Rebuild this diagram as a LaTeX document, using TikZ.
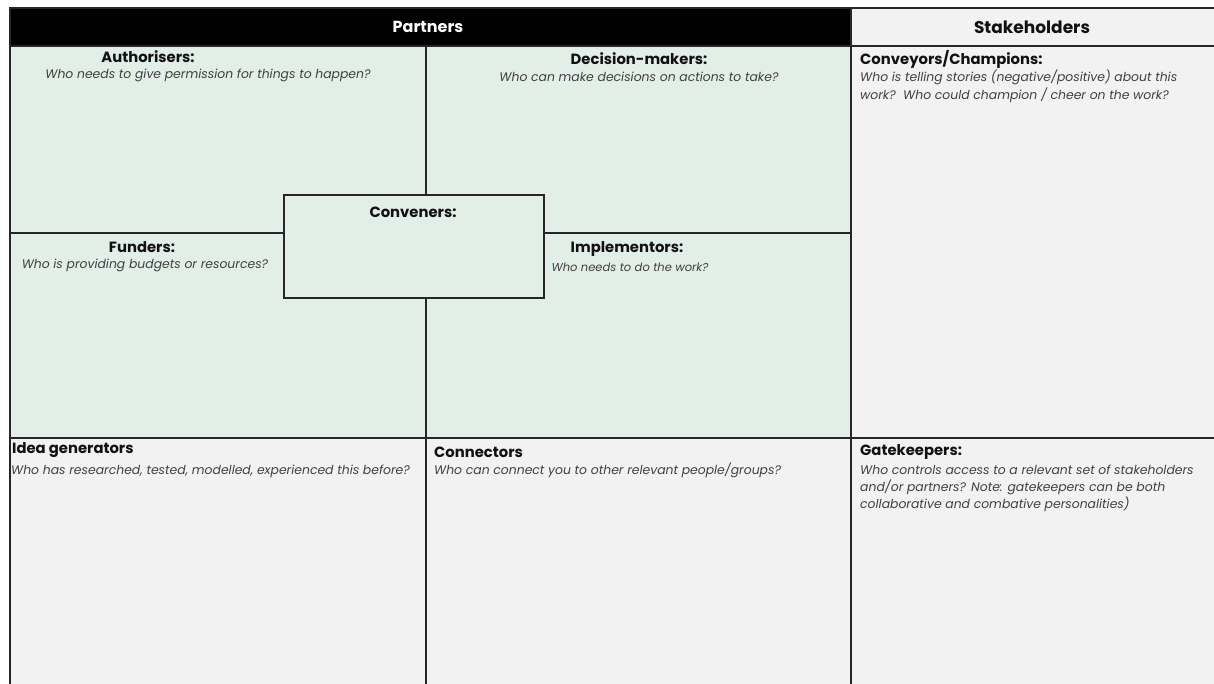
\documentclass[tikz,border=0pt]{standalone}
\usepackage{fontspec}
\setmainfont{Poppins}
\definecolor{greencell}{HTML}{E2EEE8}
\definecolor{greycell}{HTML}{F2F2F2}
\definecolor{linecol}{HTML}{262626}
\definecolor{headtxt}{HTML}{111111}
\definecolor{subtxt}{HTML}{404040}
\tikzset{
  cell/.style={draw=linecol, line width=1.8pt, anchor=north west, inner sep=0pt},
  gcell/.style={cell, fill=greencell},
  ycell/.style={cell, fill=greycell},
  head/.style={font=\bfseries\fontsize{14.8}{17}\selectfont, text=headtxt, inner sep=0pt},
  sub/.style={font=\itshape\fontsize{12.4}{17.5}\selectfont, text=subtxt, inner sep=0pt},
  leftsub/.style={sub, anchor=base west},
}
\begin{document}
\begin{tikzpicture}[x=1pt,y=-1pt]
\useasboundingbox (0,0) rectangle (1214,684);
\fill[white] (0,0) rectangle (1214,684);
% headers
\node[cell, fill=black, minimum width=841pt, minimum height=38pt] (phead) at (9,7) {};
\node[cell, fill=greycell, minimum width=380pt, minimum height=38pt] (shead) at (850,7) {};
% green quadrants
\node[gcell, minimum width=416pt, minimum height=187pt] (auth) at (9,45) {};
\node[gcell, minimum width=425pt, minimum height=187pt] (dec) at (425,45) {};
\node[gcell, minimum width=416pt, minimum height=205pt] (fund) at (9,232) {};
\node[gcell, minimum width=425pt, minimum height=205pt] (impl) at (425,232) {};
% conveners
\node[gcell, minimum width=260pt, minimum height=103pt] (conv) at (283,194) {};
% right column
\node[ycell, minimum width=380pt, minimum height=392pt] (convey) at (850,45) {};
% bottom row
\node[ycell, minimum width=416pt, minimum height=270pt] (idea) at (9,437) {};
\node[ycell, minimum width=425pt, minimum height=270pt] (connect) at (425,437) {};
\node[ycell, minimum width=380pt, minimum height=270pt] (gate) at (850,437) {};
% header texts
\node[font=\bfseries\fontsize{16}{18}\selectfont, text=white, inner sep=0pt] (ptxt) at (428,27) {Partners};
\node[font=\bfseries\fontsize{17}{19}\selectfont, text=headtxt, inner sep=0pt] (stxt) at (1032,27) {Stakeholders};
% green texts
\node[head] (authh) at (148,57) {Authorisers:};
\node[sub] (auths) at (208,75) {Who needs to give permission for things to happen?};
\node[head] (dech) at (639,59) {Decision-makers:};
\node[sub] (decs) at (639,77) {Who can make decisions on actions to take?};
\node[head] (convh) at (413,212) {Conveners:};
\node[head] (fundh) at (142,247) {Funders:};
\node[sub] (funds) at (145,265) {Who is providing budgets or resources?};
\node[head] (implh) at (627,249) {Implementors:};
\node[sub, font=\itshape\fontsize{11.5}{17}\selectfont] (impls) at (630,267) {Who needs to do the work?};
% right column texts
\node[head, anchor=west] (conveyh) at (860,59) {Conveyors/Champions:};
\node[leftsub] (conveys1) at (860,82) {Who is telling stories (negative/positive) about this};
\node[leftsub] (conveys2) at (860,100) {work?\ \ Who could champion / cheer on the work?};
% bottom texts
\node[head, anchor=west] (ideah) at (12,450) {Idea generators};
\node[leftsub] (ideas) at (11,474) {Who has researched, tested, modelled, experienced this before?};
\node[head, anchor=west] (connh) at (434,452) {Connectors};
\node[leftsub] (conns) at (434,474) {Who can connect you to other relevant people/groups?};
\node[head, anchor=west] (gateh) at (860,452) {Gatekeepers:};
\node[leftsub] (gates1) at (860,474) {Who controls access to a relevant set of stakeholders};
\node[leftsub] (gates2) at (860,491) {and/or partners? Note: gatekeepers can be both};
\node[leftsub] (gates3) at (860,508) {collaborative and combative personalities)};
\end{tikzpicture}
\end{document}
